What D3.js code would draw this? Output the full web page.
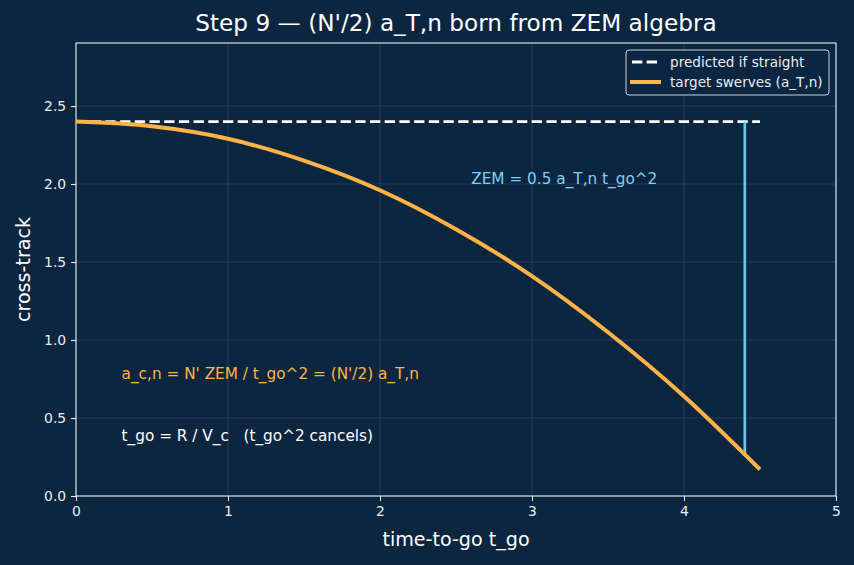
<!DOCTYPE html>
<html>
<head>
<meta charset="utf-8">
<script src="https://cdn.jsdelivr.net/npm/d3@7"></script>
<style>
  body { margin: 0; background: #0d2640; }
  text { font-family: "DejaVu Sans", sans-serif; }
</style>
</head>
<body>
<div id="chart"></div>
<script>
// values
var tgo = [0, 0.5, 1, 1.5, 2, 2.5, 3, 3.5, 4, 4.5];
var crossTrack = [2.4, 2.37, 2.29, 2.15, 1.96, 1.71, 1.41, 1.05, 0.64, 0.17];
var straightX = [0, 4.5];
var straightY = [2.4, 2.4];
var zemX = 4.4;
var zemY = [0.27, 2.4];
var xTicks = [0, 1, 2, 3, 4, 5];
var yTicks = [0, 0.5, 1.0, 1.5, 2.0, 2.5];

var svgWidth = 854, svgHeight = 565;
var margin = {top: 43, right: 18, bottom: 69, left: 76},
    width = svgWidth - margin.left - margin.right,
    height = svgHeight - margin.top - margin.bottom;

var bg = '#0d2640', fg = '#e8eef5';

var svg = d3.select('#chart').append('svg')
    .attr('width', svgWidth)
    .attr('height', svgHeight);
svg.append('rect').attr('width', svgWidth).attr('height', svgHeight).attr('fill', bg);

var chartGroup = svg.append('g')
    .attr('transform', `translate(${margin.left}, ${margin.top})`);

var x = d3.scaleLinear().domain([0, 5]).range([0, width]);
var y = d3.scaleLinear().domain([0, 2.904]).range([height, 0]);

// grid
chartGroup.append('g').selectAll('line')
    .data(xTicks).enter().append('line')
    .attr('x1', d => x(d)).attr('x2', d => x(d))
    .attr('y1', 0).attr('y2', height)
    .attr('stroke', '#ffffff').attr('stroke-opacity', 0.12).attr('stroke-width', 0.8);
chartGroup.append('g').selectAll('line')
    .data(yTicks).enter().append('line')
    .attr('x1', 0).attr('x2', width)
    .attr('y1', d => y(d)).attr('y2', d => y(d))
    .attr('stroke', '#ffffff').attr('stroke-opacity', 0.12).attr('stroke-width', 0.8);

// axes
var xAxis = chartGroup.append('g')
    .attr('transform', `translate(0, ${height})`)
    .call(d3.axisBottom(x).tickValues(xTicks).tickFormat(d3.format('d')).tickSize(4.9).tickPadding(4.9));
var yAxis = chartGroup.append('g')
    .call(d3.axisLeft(y).tickValues(yTicks).tickFormat(d3.format('.1f')).tickSize(4.9).tickPadding(4.9));
[xAxis, yAxis].forEach(function(a) {
  a.select('.domain').remove();
  a.selectAll('line').attr('stroke', fg).attr('stroke-width', 1.1);
  a.selectAll('text').attr('fill', fg).attr('font-size', '13.9px');
});

// frame
chartGroup.append('rect')
    .attr('width', width).attr('height', height)
    .attr('fill', 'none').attr('stroke', fg).attr('stroke-width', 1.1);

// predicted straight line
chartGroup.append('path')
    .datum(straightX.map((d, i) => [d, straightY[i]]))
    .attr('d', d3.line().x(d => x(d[0])).y(d => y(d[1])))
    .attr('fill', 'none').attr('stroke', '#ffffff')
    .attr('stroke-width', 2.8).attr('stroke-dasharray', '10.3,4.4');

// ZEM vertical
chartGroup.append('line')
    .attr('x1', x(zemX)).attr('x2', x(zemX))
    .attr('y1', y(zemY[0])).attr('y2', y(zemY[1]))
    .attr('stroke', '#6ec6f0').attr('stroke-width', 2.6);

// target curve
chartGroup.append('path')
    .datum(tgo.map((d, i) => [d, crossTrack[i]]))
    .attr('d', d3.line().curve(d3.curveMonotoneX).x(d => x(d[0])).y(d => y(d[1])))
    .attr('fill', 'none').attr('stroke', '#ffb347')
    .attr('stroke-width', 4);

// annotations
chartGroup.append('text')
    .attr('x', x(2.6)).attr('y', y(2.0))
    .attr('fill', '#7fd0f5').attr('font-size', '15.3px')
    .text('ZEM = 0.5 a_T,n t_go^2');
chartGroup.append('text')
    .attr('x', x(0.3)).attr('y', y(0.75))
    .attr('fill', '#ffb347').attr('font-size', '15.3px')
    .text("a_c,n = N' ZEM / t_go^2 = (N'/2) a_T,n");
chartGroup.append('text')
    .attr('x', x(0.3)).attr('y', y(0.35))
    .attr('fill', '#ffffff').attr('font-size', '15.3px')
    .style('white-space', 'pre')
    .text('t_go = R / V_c   (t_go^2 cancels)');

// legend
var legend = chartGroup.append('g')
    .attr('transform', `translate(${width - 210}, 7)`);
legend.append('rect')
    .attr('width', 203).attr('height', 45).attr('rx', 3)
    .attr('fill', bg).attr('fill-opacity', 0.8)
    .attr('stroke', '#c8d2dc').attr('stroke-width', 1);
legend.append('line')
    .attr('x1', 6).attr('x2', 34).attr('y1', 12).attr('y2', 12)
    .attr('stroke', '#ffffff').attr('stroke-width', 2.8).attr('stroke-dasharray', '10.3,4.4');
legend.append('line')
    .attr('x1', 4).attr('x2', 35).attr('y1', 32).attr('y2', 32)
    .attr('stroke', '#ffb347').attr('stroke-width', 4);
legend.append('text').attr('x', 44).attr('y', 12).attr('dy', '0.35em')
    .attr('fill', fg).attr('font-size', '13.6px').text('predicted if straight');
legend.append('text').attr('x', 44).attr('y', 32).attr('dy', '0.35em')
    .attr('fill', fg).attr('font-size', '13.6px').text('target swerves (a_T,n)');

// title and axis labels
svg.append('text')
    .attr('x', margin.left + width / 2).attr('y', 31)
    .attr('text-anchor', 'middle').attr('fill', '#ffffff').attr('font-size', '23.2px')
    .text("Step 9 — (N'/2) a_T,n born from ZEM algebra");
svg.append('text')
    .attr('x', margin.left + width / 2).attr('y', 546)
    .attr('text-anchor', 'middle').attr('fill', '#ffffff').attr('font-size', '19.1px')
    .text('time-to-go t_go');
svg.append('text')
    .attr('transform', `translate(30, ${margin.top + height / 2}) rotate(-90)`)
    .attr('text-anchor', 'middle').attr('fill', '#ffffff').attr('font-size', '19.1px')
    .text('cross-track');
</script>
</body>
</html>
